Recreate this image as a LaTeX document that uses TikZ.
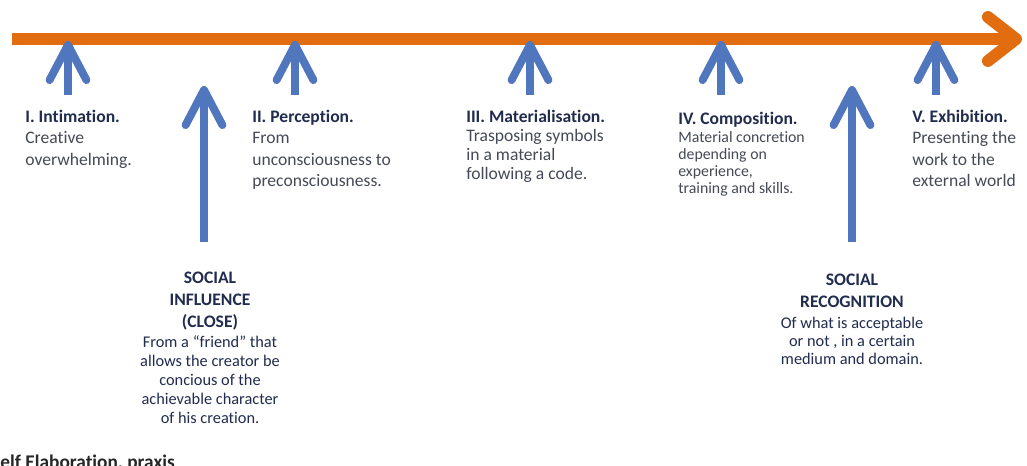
\documentclass[tikz,border=0pt]{standalone}
\usepackage{fontspec}
\setmainfont{Carlito}[Ligatures=NoCommon]
\usepackage{xcolor}
\usetikzlibrary{arrows.meta}
\definecolor{lineorange}{RGB}{226,108,16}
\definecolor{arrowblue}{RGB}{80,118,190}
\definecolor{headnavy}{RGB}{33,44,78}
\definecolor{textgrey}{RGB}{70,74,86}
\tikzset{
	stage/.style={anchor=north west, inner sep=0pt, align=left, text=textgrey},
	social/.style={anchor=north, inner sep=0pt, align=center, text=headnavy}
}
\tikzstyle{timeline} = [draw=lineorange, line width=6.8pt, -{Straight Barb[length=16pt,width=25pt,round]}]
\tikzstyle{up} = [draw=arrowblue, line width=4.5pt, -{Straight Barb[length=20pt,width=21pt,round]}]
\newcommand{\stagehead}[1]{\textbf{\color{headnavy}#1}}
\newcommand{\socialhead}[1]{{\fontsize{10}{12}\selectfont\bfseries #1}}

\begin{document}
\begin{tikzpicture}[x=0.02cm, y=-0.02cm]
  \useasboundingbox (0,0) rectangle (1027,466);
  \fill[white] (0,0) rectangle (1027,466);

  % the time line
  \coordinate (L) at (12,39);
  \coordinate (R) at (1022,39);
  \draw[timeline] (L) -- (R);

  % the five stages
  \foreach \n/\x in {1/68,2/295,3/530,4/721,5/936} {
    \coordinate (top\n) at (\x,41);
    \coordinate (foot\n) at (\x,95);
    \draw[up] (foot\n) -- (top\n);
  }

  \node[stage, font=\fontsize{10}{12.2}\selectfont] (intim) at (25,109.5)
    {\stagehead{I. Intimation.}\\Creative\\overwhelming.};
  \node[stage, font=\fontsize{10}{12.2}\selectfont] (percep) at (252,109.5)
    {\stagehead{II. Perception.}\\From\\unconsciousness to\\preconsciousness.};
  \node[stage, font=\fontsize{10}{10.8}\selectfont] (mater) at (466,109.5)
    {\stagehead{III. Materialisation.}\\Trasposing symbols\\in a material\\following a code.};
  \node[stage, font=\fontsize{9}{9.7}\selectfont] (compo) at (678,111.5)
    {{\fontsize{10}{12}\selectfont\stagehead{IV. Composition.}}\\[0.5pt]Material concretion\\depending on\\experience,\\training and skills.};
  \node[stage, font=\fontsize{10}{12.2}\selectfont] (exhib) at (912,109.5)
    {\stagehead{V. Exhibition.}\\Presenting the\\work to the\\external world};

  % social forces
  \coordinate (inflfoot) at (204,242);
  \coordinate (infltop) at (204,86);
  \draw[up] (inflfoot) -- (infltop);
  \coordinate (recfoot) at (852,242);
  \coordinate (rectop) at (852,86);
  \draw[up] (recfoot) -- (rectop);

  \node[social, font=\fontsize{9.3}{10.8}\selectfont] (infl) at (210,271.5)
    {\socialhead{SOCIAL}\\[1.7pt]\socialhead{INFLUENCE}\\[1.7pt]\socialhead{(CLOSE)}\\[0.5pt]
     From a “friend” that\\allows the creator be\\concious of the\\achievable character\\of his creation.};
  \node[social, font=\fontsize{9.3}{10.2}\selectfont] (recog) at (852,273.5)
    {\socialhead{SOCIAL}\\[2.3pt]\socialhead{RECOGNITION}\\[1.7pt]
     Of what is acceptable\\or not , in a certain\\medium and domain.};

  \node[anchor=base west, inner sep=0pt, font=\fontsize{11}{13}\selectfont\bfseries, text=black!85] (praxis) at (-9,468)
    {Self Elaboration, praxis};
\end{tikzpicture}
\end{document}
